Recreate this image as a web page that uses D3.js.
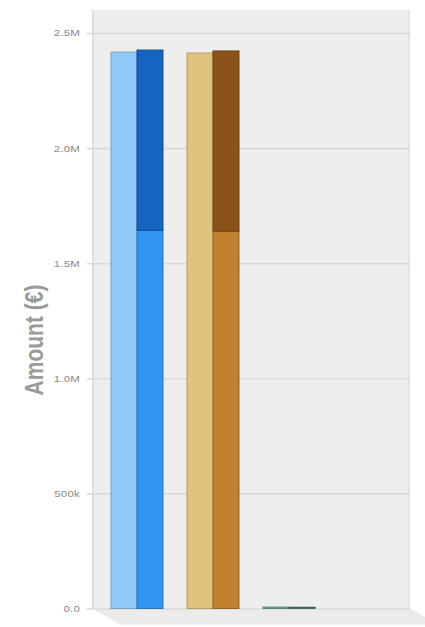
<!DOCTYPE html>
<html>
<head>
<meta charset="utf-8">
<script src="https://cdn.jsdelivr.net/npm/d3@7"></script>
<style>
  html, body { margin: 0; padding: 0; background: #ffffff; }
  svg { display: block; font-family: "Liberation Sans", Arial, sans-serif; }
</style>
</head>
<body>
<svg id="chart" width="425" height="627"></svg>
<script>
// Categories and series
const categories = ["Group 1", "Group 2", "Group 3"];
const singleValues = [2417000, 2413000, 6000];      // plain bar per group
const stackLower   = [1643000, 1639000, 4000];      // lower segment of stacked bar
const stackUpper   = [783000, 783000, 1500];        // upper segment of stacked bar
const tickValues   = [0, 500000, 1000000, 1500000, 2000000, 2500000];
const tickLabels   = ["0.0", "500k", "1.0M", "1.5M", "2.0M", "2.5M"];

const singleColors = ["#90caf9", "#e0c27e", "#6aab9c"];
const lowerColors  = ["#3196f2", "#c0802e", "#5a8f88"];
const upperColors  = ["#1565c0", "#8b5219", "#4e7d78"];

const svg = d3.select("#chart");

// Wall geometry
const wall = { left: 92, right: 410, top: 10, bottom: 608.5 };
const depth = { dx: 28, dy: 16 };

const y = d3.scaleLinear().domain([0, 2500000]).range([wall.bottom, 33]);
const x = d3.scaleBand().domain(categories).range([99, 327])
  .paddingInner(0.316).paddingOuter(0.158);
const xs = d3.scaleBand().domain(["single", "stacked"]).range([0, x.bandwidth()]);

// Floor
svg.append("path")
  .attr("d", d3.line()([
    [wall.left, wall.bottom],
    [wall.right, wall.bottom],
    [wall.right + depth.dx, wall.bottom + depth.dy],
    [wall.left + depth.dx, wall.bottom + depth.dy]
  ]) + "Z")
  .attr("fill", "#ebebeb");

// Back wall
svg.append("rect")
  .attr("x", wall.left).attr("y", wall.top)
  .attr("width", wall.right - wall.left)
  .attr("height", wall.bottom - wall.top)
  .attr("fill", "#eeeeee");
svg.append("line")
  .attr("x1", wall.left + 1).attr("x2", wall.left + 1)
  .attr("y1", wall.top).attr("y2", wall.bottom)
  .attr("stroke", "#dedede").attr("stroke-width", 2);
svg.append("line")
  .attr("x1", wall.right - 1).attr("x2", wall.right - 1)
  .attr("y1", wall.top).attr("y2", wall.bottom)
  .attr("stroke", "#e2e2e2").attr("stroke-width", 1.5);

// Gridlines and y axis
const yAxis = d3.axisLeft(y)
  .tickValues(tickValues)
  .tickFormat((d, i) => tickLabels[i])
  .tickSize(5)
  .tickPadding(2);
const gAxis = svg.append("g")
  .attr("transform", `translate(${wall.left - 5},0)`)
  .call(yAxis);
gAxis.select(".domain").remove();
gAxis.selectAll(".tick line")
  .attr("x1", 0).attr("x2", wall.right - wall.left + 5)
  .attr("stroke", "#d9d9d9").attr("stroke-width", 1.6);
gAxis.selectAll(".tick text")
  .attr("fill", "#8a8a8a")
  .attr("font-size", 11.5)
  .attr("letter-spacing", "0.2")
  .attr("dy", "0.36em")
  .attr("transform", "scale(1,0.72)");

// Bars
const groups = svg.append("g").selectAll("g")
  .data(categories)
  .join("g")
  .attr("transform", d => `translate(${x(d)},0)`);

groups.append("rect")
  .attr("x", xs("single"))
  .attr("width", xs.bandwidth())
  .attr("y", (d, i) => y(singleValues[i]))
  .attr("height", (d, i) => y(0) - y(singleValues[i]))
  .attr("fill", (d, i) => singleColors[i])
  .attr("stroke", (d, i) => d3.color(singleColors[i]).darker(0.6))
  .attr("stroke-width", 1);

const stack = d3.stack().keys(["lower", "upper"])(
  categories.map((c, i) => ({ lower: stackLower[i], upper: stackUpper[i] }))
);
const segColors = { lower: lowerColors, upper: upperColors };

stack.forEach(layer => {
  groups.append("rect")
    .attr("x", xs("stacked"))
    .attr("width", xs.bandwidth())
    .attr("y", (d, i) => y(layer[i][1]))
    .attr("height", (d, i) => y(layer[i][0]) - y(layer[i][1]))
    .attr("fill", (d, i) => segColors[layer.key][i])
    .attr("stroke", (d, i) => d3.color(segColors[layer.key][i]).darker(0.7))
    .attr("stroke-width", 1);
});

// Y axis title
svg.append("text")
  .attr("transform", "translate(43,340) rotate(-90) scale(1,1.2)")
  .attr("text-anchor", "middle")
  .attr("font-size", 21)
  .attr("font-weight", "bold")
  .attr("fill", "#9a9a9a")
  .text("Amount (€)");
</script>
</body>
</html>
